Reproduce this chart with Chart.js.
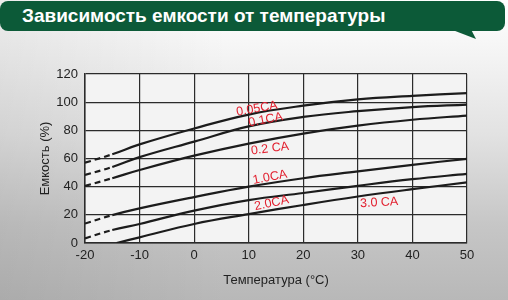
<!DOCTYPE html>
<html>
<head>
<meta charset="utf-8">
<script src="https://cdn.jsdelivr.net/npm/chart.js@4"></script>
<style>
    html, body {
        margin: 0;
        padding: 0;
        width: 508px;
        height: 300px;
        overflow: hidden;
        font-family: "Liberation Sans", Arial, sans-serif;
    }
    body {
        background:
            linear-gradient(90deg, rgba(0,0,0,0.07) 0%, rgba(0,0,0,0) 45%),
            linear-gradient(180deg, #ffffff 0%, #f6f6f6 15%, #e2e2e2 45%, #c6c6c6 75%, #b8b8b8 100%);
        position: relative;
    }
    #wrap {
        position: absolute;
        left: 0;
        top: 0;
        width: 508px;
        height: 300px;
    }
    #banner {
        position: absolute;
        left: 0;
        top: 1px;
        width: 505px;
        height: 30px;
        background: #0c5a38;
        border-radius: 8px;
        color: #fff;
        font-weight: bold;
        font-size: 19px;
        line-height: 30px;
        box-sizing: border-box;
        padding-left: 22px;
        z-index: 2;
    }
    #tail {
        position: absolute;
        left: 450px;
        top: 29px;
        width: 26px;
        height: 10px;
        background: #0c5a38;
        clip-path: polygon(0 0, 80% 0, 100% 100%);
        z-index: 2;
    }
</style>
</head>
<body>
<div id="banner">Зависимость емкости от температуры</div>
<div id="tail"></div>
<div id="wrap"><canvas id="grafico" width="508" height="300"></canvas></div>
<script>
// =========================
// DADOS
// =========================

const temps = [-20, -15, -10, 0, 10, 20, 30, 40, 50];
const temps30 = [-14.2, -10, 0, 10, 20, 30, 40, 50];

const cap005 = [57, 63, 70, 81.3, 91.2, 97.5, 102, 104.5, 106.4];
const cap01 = [48.3, 54, 61, 72, 82.8, 89.5, 93.6, 96.5, 98.3];
const cap02 = [40.5, 46, 51.8, 62, 70.6, 77.7, 83.3, 87.5, 90.5];
const cap10 = [13.8, 19.8, 24.6, 32.6, 40, 46, 50.8, 55.5, 59.8];
const cap20 = [3.3, 9.2, 13.5, 23, 30.5, 35.5, 40.6, 45.3, 49.1];
const cap30 = [0, 4, 13.5, 20.5, 27, 33, 38.2, 43];

const xTicks = [-20, -10, 0, 10, 20, 30, 40, 50];
const yTicks = [0, 20, 40, 60, 80, 100, 120];

// rótulos das curvas: texto, posição (°C, %), inclinação
const rotulos = ['0.05CA', '0.1CA', '0.2 CA', '1.0CA', '2.0CA', '3.0 CA'];
const rotX = [11.5, 13.1, 13.9, 13.9, 14.2, 33.9];
const rotY = [95.3, 87.5, 67, 46.6, 28.2, 28.6];
const rotAng = [-10, -11, -7, -11, -12, -3];

// =========================
// GRÁFICO
// =========================

function pontos(xs, ys) {
    return xs.map((x, i) => ({ x: x, y: ys[i] }));
}

function serie(nome, xs, ys) {
    return {
        label: nome,
        data: pontos(xs, ys),
        borderColor: '#1c1c1c',
        borderWidth: 2.2,
        pointRadius: 0,
        fill: false,
        tension: 0.4,
        segment: {
            borderDash: ctx => ctx.p0.parsed.x < -15.5 ? [6, 4] : undefined
        }
    };
}

const fundoPlot = {
    id: 'fundoPlot',
    beforeDraw(chart) {
        const { ctx, chartArea } = chart;
        ctx.save();
        ctx.fillStyle = '#f3f3f3';
        ctx.fillRect(chartArea.left, chartArea.top,
            chartArea.right - chartArea.left, chartArea.bottom - chartArea.top);
        ctx.restore();
    }
};

const rotulosCurvas = {
    id: 'rotulosCurvas',
    afterDatasetsDraw(chart) {
        const { ctx, scales } = chart;
        ctx.save();
        ctx.fillStyle = '#e2202f';
        ctx.font = '12.5px "Liberation Sans", Arial, sans-serif';
        ctx.textAlign = 'center';
        ctx.textBaseline = 'middle';
        rotulos.forEach((t, i) => {
            const px = scales.x.getPixelForValue(rotX[i]);
            const py = scales.y.getPixelForValue(rotY[i]);
            ctx.save();
            ctx.translate(px, py);
            ctx.rotate(rotAng[i] * Math.PI / 180);
            ctx.fillText(t, 0, 0);
            ctx.restore();
        });
        ctx.restore();
    }
};

const fonteEixo = { family: '"Liberation Sans", Arial, sans-serif', size: 13 };

new Chart(
    document.getElementById('grafico'),
    {
        type: 'line',
        data: {
            datasets: [
                serie('0.05CA', temps, cap005),
                serie('0.1CA', temps, cap01),
                serie('0.2CA', temps, cap02),
                serie('1.0CA', temps, cap10),
                serie('2.0CA', temps, cap20),
                serie('3.0CA', temps30, cap30)
            ]
        },
        options: {
            responsive: false,
            animation: false,
            layout: { padding: { top: 74, right: 41, left: 0, bottom: 0 } },
            plugins: {
                legend: { display: false },
                tooltip: { enabled: false }
            },
            scales: {
                x: {
                    type: 'linear',
                    min: -20,
                    max: 50,
                    afterBuildTicks: s => { s.ticks = xTicks.map(v => ({ value: v })); },
                    afterFit: s => { s.height = 57; },
                    grid: { color: '#2b2b2b', lineWidth: 1.2, drawTicks: false },
                    border: { color: '#2b2b2b', width: 1.5 },
                    ticks: { color: '#222', font: fonteEixo, padding: 5, maxRotation: 0 },
                    title: {
                        display: true,
                        text: 'Температура (°C)',
                        color: '#222',
                        font: fonteEixo,
                        padding: { top: 0, bottom: 12 }
                    }
                },
                y: {
                    min: 0,
                    max: 120,
                    afterBuildTicks: s => { s.ticks = yTicks.map(v => ({ value: v })); },
                    afterFit: s => { s.width = 85; },
                    grid: { color: '#2b2b2b', lineWidth: 1.2, drawTicks: false },
                    border: { color: '#2b2b2b', width: 1.5 },
                    ticks: { color: '#222', font: fonteEixo, padding: 7 },
                    title: {
                        display: true,
                        text: 'Емкость (%)',
                        color: '#222',
                        font: fonteEixo,
                        padding: { top: 38, bottom: 0 }
                    }
                }
            }
        },
        plugins: [fundoPlot, rotulosCurvas]
    }
);
</script>
</body>
</html>
